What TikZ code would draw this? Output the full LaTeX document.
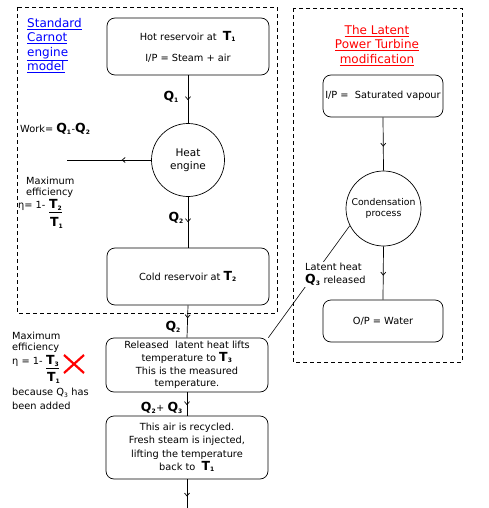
\documentclass[tikz,border=0pt]{standalone}
\usepackage{fontspec}
\setmainfont{DejaVu Sans}
\usetikzlibrary{arrows.meta,decorations.markings}
\newcommand{\bT}[1]{{\fontsize{12.5}{12.5}\selectfont\bfseries T}\textsubscript{\fontsize{6}{6}\selectfont\bfseries #1}}
\newcommand{\bQ}[1]{{\fontsize{12.5}{12.5}\selectfont\bfseries Q}\textsubscript{\fontsize{6}{6}\selectfont\bfseries #1}}
\begin{document}
\begin{tikzpicture}[x=1pt,y=-1pt,
  font=\fontsize{9.8}{12}\selectfont,
  box/.style={draw, rounded corners=8pt, line width=0.7pt, align=center, inner sep=2pt},
  dashbox/.style={draw, dashed, line width=0.6pt, dash pattern=on 4pt off 3pt},
  circ/.style={draw, circle, line width=0.7pt, align=center, inner sep=0pt},
  flow/.style={line width=0.7pt},
  midarrow/.style={postaction={decorate}, decoration={markings, mark=at position #1 with {\arrow{Straight Barb[length=3pt,width=5pt]}}}},
  midarrow/.default=0.5,
  txt/.style={inner sep=0pt, anchor=west, align=left},
  title/.style={inner sep=0pt, align=center, font=\fontsize{12}{14.5}\selectfont}
]
\useasboundingbox (0,0) rectangle (488,508);
% dashed frames
\draw[dashbox] (17,7) rectangle (277,313);
\draw[dashbox] (293,8) rectangle (462,362);
% titles
\node[title, text=blue, anchor=north west, align=left] (stdtitle) at (27,18)
  {\underline{Standard}\\\underline{Carnot}\\\underline{engine}\\\underline{model}};
\node[title, text=red, anchor=north] (lattitle) at (377,25)
  {\underline{The Latent}\\\underline{Power Turbine}\\\underline{modification}};
% left column nodes
\node[box, minimum width=162pt, minimum height=57pt] (hot) at (188,46.5)
  {Hot reservoir at \ \bT{1}\\[9pt] I/P = Steam + air};
\node[circ, minimum size=73pt, font=\fontsize{10.5}{13}\selectfont] (eng) at (188,160) {Heat\\engine};
\node[box, minimum width=162pt, minimum height=57pt] (cold) at (188,276.5)
  {Cold reservoir at \bT{2}};
\node[box, minimum width=162pt, minimum height=54pt, font=\fontsize{9.8}{12.6}\selectfont] (rel) at (187,365)
  {Released\ \ latent heat lifts\\ temperature to \bT{3}\\ This is the measured\\ temperature.};
\node[box, minimum width=162pt, minimum height=63pt, font=\fontsize{9.8}{13.2}\selectfont] (rec) at (187,447.5)
  {This air is recycled.\\ Fresh steam is injected,\\ lifting the temperature\\ back to \ \bT{1}};
\coordinate (bottomend) at (187,508);
\coordinate (workend) at (67,160);
% right column nodes
\node[box, minimum width=120pt, minimum height=42pt] (ip) at (383,96) {I/P = \ Saturated vapour};
\node[circ, minimum size=75pt, font=\fontsize{9.3}{11.5}\selectfont] (cond) at (383.5,208.5) {Condensation\\process};
\node[box, minimum width=120pt, minimum height=42pt] (op) at (383,321) {O/P = Water};
% connectors
\draw[flow, midarrow=0.52] (hot.south) -- (eng.north);
\draw[flow, midarrow=0.5] (eng.south) -- (cold.north);
\draw[flow, midarrow=0.4] (cold.south) -- (rel.north);
\draw[flow, midarrow=0.55] (rel.south) -- (rec.north);
\draw[flow, midarrow=0.6] (rec.south) -- (bottomend);
\draw[flow, midarrow=0.35] (eng.west) -- (workend);
\draw[flow, midarrow=0.55] (ip.south) -- (cond.north);
\draw[flow, midarrow=0.55] (cond.south) -- (op.north);
\draw[line width=0.6pt] (cond.207) -- (rel.north east);
% labels
\node[txt, fill=white, inner sep=1pt, font=\fontsize{9.8}{13}\selectfont] (latlab) at (304,274.5)
  {Latent heat\\\bQ{3} released};
\node[inner sep=0pt, anchor=east] (q1) at (179,97) {\bQ{1}};
\node[inner sep=0pt, anchor=east] (q2a) at (184,218) {\bQ{2}};
\node[inner sep=0pt, anchor=east] (q2b) at (181,327) {\bQ{2}};
\node[inner sep=0pt, anchor=east] (q23) at (183,408) {\bQ{2}+ \bQ{3}};
\node[txt] (work) at (20,129) {Work= \bQ{1}-\bQ{2}};
\node[txt, font=\fontsize{9.8}{11}\selectfont] (eff1) at (26,187) {Maximum\\efficiency};
\node[txt] (eta1) at (18,206) {η= 1-};
\node[txt] (t2a) at (49,206) {\underline{\bT{2}}};
\node[txt] (t1a) at (50,223) {\bT{1}};
\node[txt, font=\fontsize{9.8}{11.5}\selectfont] (eff2) at (12,342.5) {Maximum\\efficiency};
\node[txt] (eta2) at (12,362) {η = 1-};
\node[txt] (t3b) at (46,362) {\underline{\bT{3}}};
\node[txt] (t1b) at (47,378) {\bT{1}};
\node[txt, font=\fontsize{9.8}{14}\selectfont] (because) at (12,399) {because Q\textsubscript{\fontsize{6}{6}\selectfont 3} has\\been added};
\draw[red, line width=2.2pt] (64,355) -- (84,373);
\draw[red, line width=2.2pt] (84,355) -- (64,373);
\end{tikzpicture}
\end{document}
